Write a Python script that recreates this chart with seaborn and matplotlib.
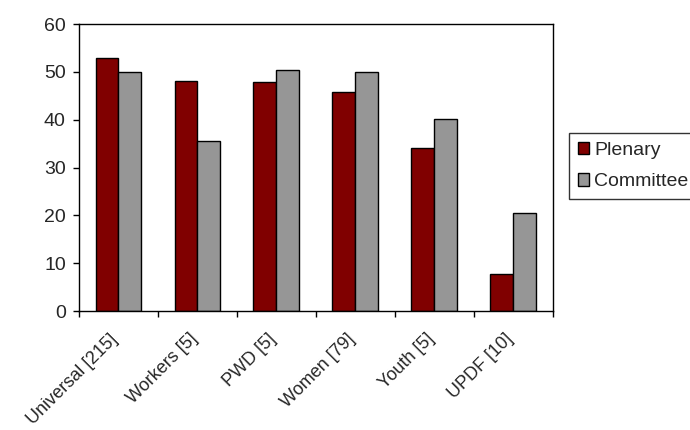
import pandas as pd
import seaborn as sns
import matplotlib.pyplot as plt
import matplotlib.transforms as mtransforms
import numpy as np

# data
categories = ["Universal [215]", "Workers [5]", "PWD [5]", "Women [79]", "Youth [5]", "UPDF [10]"]
plenary = [52.9, 48.2, 47.8, 45.8, 34.0, 7.7]
committee = [50.0, 35.6, 50.3, 50.0, 40.2, 20.5]
series = ["Plenary", "Committee"]
colors = ["#800000", "#969696"]

df = pd.DataFrame({"category": categories * 2,
                   "value": plenary + committee,
                   "series": [series[0]] * len(categories) + [series[1]] * len(categories)})

sns.set_theme(style="white")
plt.rcParams['font.family'] = ['Liberation Sans', 'DejaVu Sans']
fs = 14

fig = plt.figure(figsize=(6.9, 4.3), dpi=100)
ax = fig.add_axes([0.1145, 0.2767, 0.801 - 0.1145, 0.944 - 0.2767])

sns.barplot(data=df, x="category", y="value", hue="series", order=categories,
            hue_order=series, palette=colors, width=0.58, gap=0,
            edgecolor="black", linewidth=1, saturation=1, ax=ax)

# y axis
ax.set_ylim(0, 60)
ax.set_yticks(np.arange(0, 61, 10))
ax.tick_params(axis="y", direction="out", length=4.5, width=1, color="black",
               labelsize=fs, left=True, pad=5)

# x axis: tick marks between categories, labels at centres
ax.set_xlim(-0.5, len(categories) - 0.5)
ax.set_xticks(np.arange(-0.5, len(categories), 1.0))
ax.set_xticklabels([])
ax.set_xticks(np.arange(len(categories)), minor=True)
ax.set_xticklabels(categories, minor=True, rotation=45, ha="right",
                   rotation_mode="anchor", fontsize=13)
ax.tick_params(axis="x", which="major", direction="out", length=4.5, width=1,
               color="black", bottom=True)
ax.tick_params(axis="x", which="minor", length=0, pad=14)
shift = mtransforms.ScaledTranslation(-9 / 100, 0, fig.dpi_scale_trans)
for lab in ax.get_xticklabels(minor=True):
    lab.set_transform(lab.get_transform() + shift)
ax.set_xlabel("")
ax.set_ylabel("")

for s in ax.spines.values():
    s.set_visible(True)
    s.set_color("black")
    s.set_linewidth(1)

leg = ax.legend(loc="lower left", bbox_to_anchor=(1.034, 0.39), borderaxespad=0,
                frameon=True, fancybox=False, fontsize=fs, handlelength=0.6,
                handleheight=0.6, handletextpad=0.25, labelspacing=0.75,
                borderpad=0.45)
leg.get_frame().set_edgecolor("black")
leg.get_frame().set_linewidth(1)

fig.savefig("out.png", dpi=100)
